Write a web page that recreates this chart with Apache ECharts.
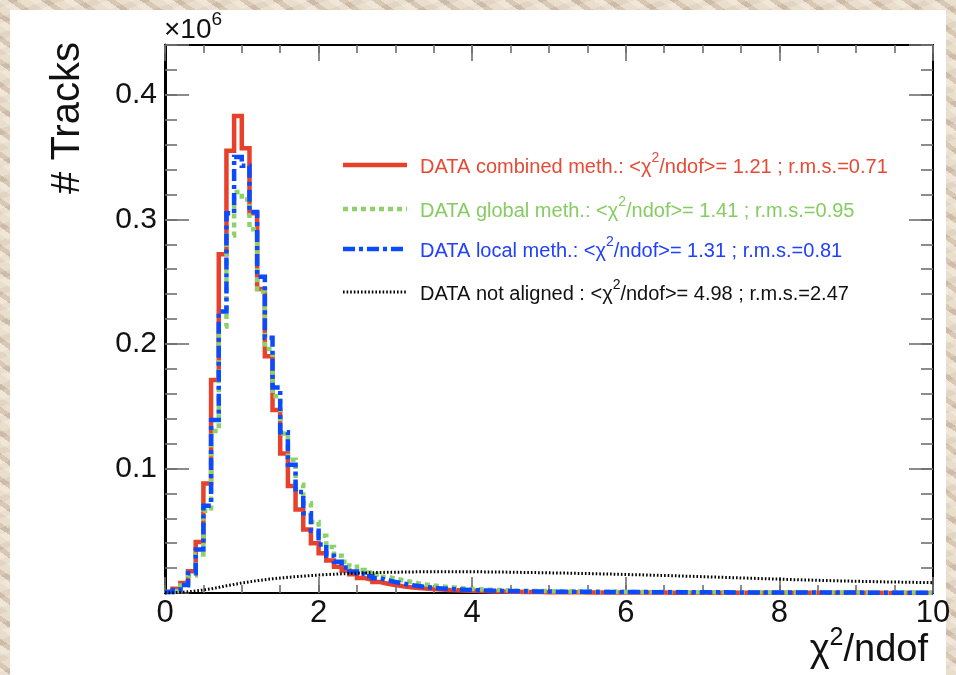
<!DOCTYPE html>
<html><head><meta charset="utf-8">
<script src="https://cdn.jsdelivr.net/npm/echarts@6/dist/echarts.min.js"></script>
<style>
html,body{margin:0;padding:0;width:956px;height:675px;overflow:hidden;}
body{background-color:#d9cab7;
background-image:
 repeating-linear-gradient(35deg, rgba(255,248,238,.55) 0 6px, rgba(195,175,155,.30) 6px 11px, rgba(245,236,222,.45) 11px 19px),
 repeating-linear-gradient(-20deg, rgba(232,218,198,.5) 0 9px, rgba(185,165,145,.25) 9px 15px);}
#panel{position:absolute;left:10px;top:10px;width:936px;height:665px;background:#fff;}
#chart{position:absolute;left:0;top:0;width:956px;height:675px;}
</style></head>
<body><div id="panel"></div><div id="chart"></div>
<script>
// Histogram: 100 bins of width 0.1 on chi2/ndof in [0,10]; contents in units of 1e6 tracks
const binWidth = 0.1;
const xTicks = [0, 2, 4, 6, 8, 10];
const yTicks = [0.1, 0.2, 0.3, 0.4];

const combined = [
 0.001, 0.0035, 0.008, 0.0175, 0.041, 0.088, 0.171, 0.272, 0.355, 0.383,
 0.357, 0.305, 0.244, 0.190, 0.147, 0.112, 0.086, 0.067, 0.051, 0.040,
 0.032, 0.026, 0.021, 0.018, 0.015, 0.012, 0.0105, 0.0088, 0.0074, 0.0063,
 0.0054, 0.0047, 0.0041, 0.0036, 0.0032, 0.0028, 0.0025, 0.0022, 0.0020, 0.0018,
 0.0016, 0.0014, 0.0013, 0.0012, 0.0011, 0.0010, 0.0009, 0.0008, 0.0008, 0.0007,
 0.0007, 0.0006, 0.0006, 0.0006, 0.0005, 0.0005, 0.0005, 0.0005, 0.0004, 0.0004,
 0.0004, 0.0004, 0.0004, 0.0004, 0.0004, 0.0003, 0.0003, 0.0003, 0.0003, 0.0003,
 0.0003, 0.0003, 0.0003, 0.0003, 0.0003, 0.0003, 0.0002, 0.0002, 0.0002, 0.0002,
 0.0002, 0.0002, 0.0002, 0.0002, 0.0002, 0.0002, 0.0002, 0.0002, 0.0002, 0.0002,
 0.0002, 0.0002, 0.0002, 0.0001, 0.0001, 0.0001, 0.0001, 0.0001, 0.0001, 0.0001
];
const globalM = [
 0.0008, 0.0022, 0.006, 0.014, 0.031, 0.066, 0.130, 0.214, 0.287, 0.322,
 0.316, 0.292, 0.242, 0.196, 0.158, 0.128, 0.107, 0.087, 0.072, 0.057,
 0.046, 0.037, 0.030, 0.025, 0.021, 0.0185, 0.0165, 0.0148, 0.0130, 0.0115,
 0.0102, 0.0090, 0.0078, 0.0068, 0.0060, 0.0053, 0.0047, 0.0042, 0.0037, 0.0033,
 0.0030, 0.0027, 0.0025, 0.0023, 0.0021, 0.0019, 0.0018, 0.0017, 0.0016, 0.0015,
 0.0014, 0.0013, 0.0013, 0.0012, 0.0012, 0.0011, 0.0011, 0.0010, 0.0010, 0.0010,
 0.0009, 0.0009, 0.0009, 0.0008, 0.0008, 0.0008, 0.0008, 0.0007, 0.0007, 0.0007,
 0.0007, 0.0007, 0.0006, 0.0006, 0.0006, 0.0006, 0.0006, 0.0006, 0.0005, 0.0005,
 0.0005, 0.0005, 0.0005, 0.0005, 0.0005, 0.0005, 0.0004, 0.0004, 0.0004, 0.0004,
 0.0004, 0.0004, 0.0004, 0.0004, 0.0004, 0.0004, 0.0004, 0.0003, 0.0003, 0.0003
];
const localM = [
 0.0008, 0.0025, 0.0065, 0.0158, 0.035, 0.070, 0.139, 0.226, 0.305, 0.350,
 0.343, 0.306, 0.254, 0.205, 0.165, 0.129, 0.103, 0.081, 0.064, 0.050,
 0.039, 0.030, 0.025, 0.0205, 0.0172, 0.0155, 0.0135, 0.0118, 0.0102, 0.0088,
 0.0076, 0.0065, 0.0056, 0.0048, 0.0042, 0.0037, 0.0033, 0.0030, 0.0027, 0.0024,
 0.0022, 0.0020, 0.0018, 0.0017, 0.0016, 0.0015, 0.0014, 0.0013, 0.0012, 0.0012,
 0.0011, 0.0011, 0.0010, 0.0010, 0.0010, 0.0009, 0.0009, 0.0009, 0.0008, 0.0008,
 0.0008, 0.0008, 0.0007, 0.0007, 0.0007, 0.0007, 0.0007, 0.0006, 0.0006, 0.0006,
 0.0006, 0.0006, 0.0006, 0.0005, 0.0005, 0.0005, 0.0005, 0.0005, 0.0005, 0.0005,
 0.0004, 0.0004, 0.0004, 0.0004, 0.0004, 0.0004, 0.0004, 0.0004, 0.0004, 0.0004,
 0.0003, 0.0003, 0.0003, 0.0003, 0.0003, 0.0003, 0.0003, 0.0003, 0.0003, 0.0003
];
const notAligned = [
 0.0002, 0.0005, 0.0010, 0.0016, 0.0024, 0.0033, 0.0045, 0.0058, 0.0069, 0.0080,
 0.0090, 0.0099, 0.0107, 0.0114, 0.0120, 0.0126, 0.0131, 0.0136, 0.0140, 0.0144,
 0.0148, 0.0151, 0.0154, 0.0157, 0.0159, 0.0161, 0.0163, 0.0165, 0.0166, 0.0167,
 0.0168, 0.0169, 0.0170, 0.0170, 0.0171, 0.0171, 0.0171, 0.0171, 0.0171, 0.0170,
 0.0170, 0.0169, 0.0169, 0.0168, 0.0167, 0.0166, 0.0165, 0.0164, 0.0163, 0.0162,
 0.0161, 0.0160, 0.0159, 0.0157, 0.0156, 0.0155, 0.0153, 0.0152, 0.0150, 0.0149,
 0.0147, 0.0146, 0.0144, 0.0142, 0.0141, 0.0139, 0.0137, 0.0135, 0.0133, 0.0131,
 0.0129, 0.0127, 0.0125, 0.0123, 0.0121, 0.0119, 0.0117, 0.0115, 0.0113, 0.0111,
 0.0109, 0.0107, 0.0105, 0.0104, 0.0102, 0.0100, 0.0099, 0.0097, 0.0096, 0.0094,
 0.0093, 0.0092, 0.0090, 0.0089, 0.0088, 0.0087, 0.0086, 0.0085, 0.0084, 0.0083
];

const legendLabels = ['DATA combined meth.: ', 'DATA global meth.: ', 'DATA local meth.: ', 'DATA not aligned : '];
const legendMeans = ['1.21', '1.41', '1.31', '4.98'];
const legendRms = ['0.71', '0.95', '0.81', '2.47'];

const FONT = '"Liberation Sans", Arial, Helvetica, sans-serif';
const styles = [
 {color:'#e8412b', width:4.5, type:'solid', text:'#e64a35'},
 {color:'#8ed06a', width:4.5, type:[5,4], text:'#86cc62'},
 {color:'#0a4bff', width:4.5, type:[12,4,4,4], text:'#2040ff'},
 {color:'#000000', width:3, type:[1.6,2], text:'#111111'}
];

function toSteps(vals){
  const d = vals.map((v,i)=>[+(i*binWidth).toFixed(2), v]);
  d.push([+(vals.length*binWidth).toFixed(2), vals[vals.length-1]]);
  return d;
}
const allSeries = [combined, globalM, localM, notAligned];

const chart = echarts.init(document.getElementById('chart'), null, {renderer:'canvas'});
const tickColor = '#6e6e6e';
function xAx(pos, interval, len, showLine, showLabel){
  return {type:'value', position:pos, min:0, max:10, interval:interval,
    axisLine:{show:showLine, onZero:false, lineStyle:{color:'#000', width:2}},
    axisTick:{show:true, inside:true, length:len, lineStyle:{color:tickColor, width:1.6}},
    axisLabel:{show:showLabel, fontSize:31, fontFamily:FONT, color:'#111', margin:5,
      formatter:v=> xTicks.indexOf(v)>=0 ? String(v) : ''},
    splitLine:{show:false}, minorTick:{show:false}};
}
function yAx(pos, interval, len, showLine, showLabel, lw){
  return {type:'value', position:pos, min:0, max:0.44, interval:interval,
    axisLine:{show:showLine, onZero:false, lineStyle:{color:'#000', width:lw||2}},
    axisTick:{show:true, inside:true, length:len, lineStyle:{color:tickColor, width:1.6}},
    axisLabel:{show:showLabel, fontSize:30, fontFamily:FONT, color:'#111', margin:8,
      formatter:v=>{ const m = yTicks.find(t=>Math.abs(t-v)<1e-6); return m!==undefined ? m.toFixed(1) : ''; }},
    splitLine:{show:false}, minorTick:{show:false}};
}

const graphics = [];
const legY = [165, 209, 249, 292];
legendLabels.forEach((t,i)=>{
  graphics.push({type:'line', shape:{x1:343, y1:legY[i], x2:407, y2:legY[i]},
    style:{stroke:styles[i].color, lineWidth:styles[i].width, lineDash: styles[i].type==='solid'?null:styles[i].type}});
  const c = styles[i].text;
  graphics.push({type:'text', left:420, top:legY[i]-14,
    style:{text:'{a|'+t+'<χ}{s|2}{a|/ndof>= '+legendMeans[i]+' ; r.m.s.='+legendRms[i]+'}',
      rich:{a:{fontSize:20, fontFamily:FONT, fill:c, verticalAlign:'bottom', lineHeight:26},
            s:{fontSize:14, fontFamily:FONT, fill:c, verticalAlign:'top', lineHeight:26}}}});
});
graphics.push({type:'text', left:164, top:10, style:{rich:{a:{fontSize:28, fontFamily:FONT, fill:'#111', verticalAlign:'bottom', lineHeight:34}, s:{fontSize:19, fontFamily:FONT, fill:'#111', verticalAlign:'top', lineHeight:34}}, text:'{a|×10}{s|6}'}});
graphics.push({type:'text', x:928, y:648, style:{rich:{a:{fontSize:38, fontFamily:FONT, fill:'#111', verticalAlign:'bottom', lineHeight:44}, s:{fontSize:25, fontFamily:FONT, fill:'#111', verticalAlign:'top', lineHeight:44}}, text:'{a|χ}{s|2}{a|/ndof}', align:'right', verticalAlign:'middle'}});
graphics.push({type:'text', x:68, y:118, rotation:Math.PI/2, style:{text:'# Tracks', font:'40px '+FONT, fill:'#111', align:'center', verticalAlign:'middle'}});

chart.setOption({
  animation:false,
  backgroundColor:'transparent',
  grid:{left:165, right:23, top:45, bottom:82, containLabel:false},
  xAxis:[
    xAx('bottom', 2, 16, true, true),
    xAx('bottom', 0.5, 8, false, false),
    xAx('top', 2, 16, true, false),
    xAx('top', 0.5, 8, false, false)
  ],
  yAxis:[
    yAx('left', 0.1, 24, true, true, 3),
    yAx('left', 0.02, 12, false, false),
    yAx('right', 0.1, 24, true, false),
    yAx('right', 0.02, 12, false, false)
  ],
  series: allSeries.map((vals,i)=>({
    type:'line', step:'end', data:toSteps(vals), xAxisIndex:0, yAxisIndex:0,
    showSymbol:false, symbol:'none', clip:true, z:2+i,
    lineStyle:{color:styles[i].color, width:styles[i].width, type:styles[i].type, cap:'butt', join:'miter'}
  })),
  graphic: graphics
});
</script></body></html>
